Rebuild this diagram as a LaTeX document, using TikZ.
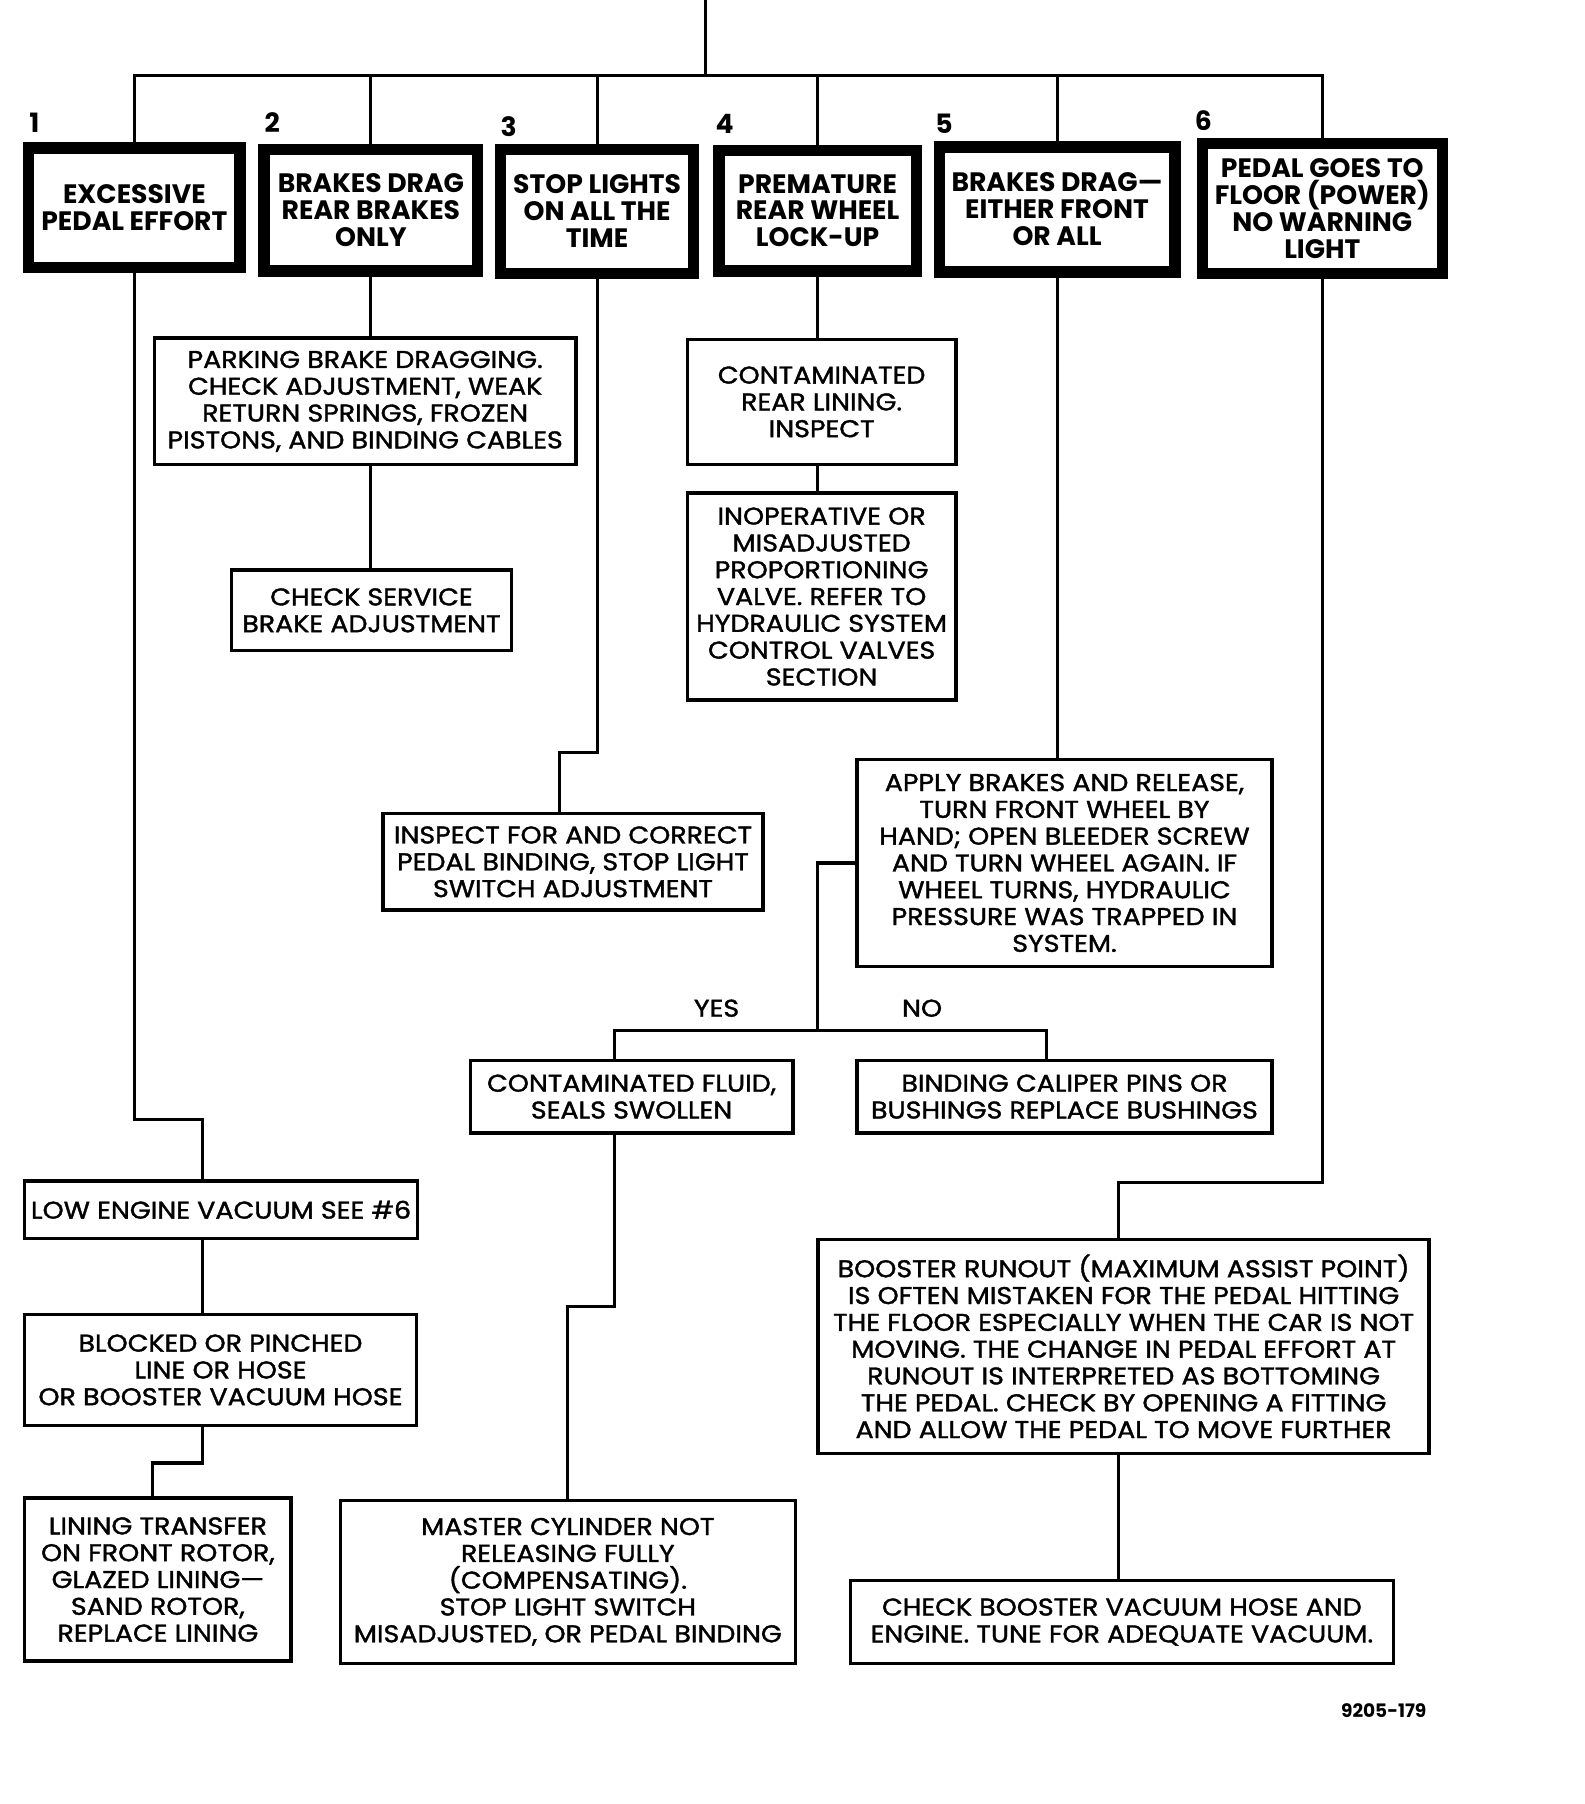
\documentclass[tikz,border=0pt]{standalone}
\usepackage{fontspec}
\setmainfont{Poppins}
\newfontfamily\bodyface{Poppins}[FakeStretch=1.11, FakeBold=1.5, Ligatures=TeX]
\newcommand{\headfont}{\fontsize{16.5}{16.7}\selectfont\bfseries}
\newcommand{\bodyfont}{\bodyface\fontsize{15}{16.6}\selectfont}
\tikzset{
  headbox/.style={draw, line width=7.1pt, inner sep=0pt, align=center, font=\headfont},
  textbox/.style={draw, line width=2.1pt, inner sep=0pt, align=center, font=\bodyfont},
  numlabel/.style={inner sep=0pt, font=\headfont},
  link/.style={line width=1.9pt},
}
\begin{document}
\begin{tikzpicture}[x=0.025cm, y=-0.025cm]
  \useasboundingbox (0,0) rectangle (1380,1571);

  % the six complaints
  \node [headbox, minimum width=4.6cm, minimum height=2.6cm] (hd1) at (117,181) {EXCESSIVE\\PEDAL EFFORT};
  \node [headbox, minimum width=4.65cm, minimum height=2.65cm] (hd2) at (323,183) {BRAKES DRAG\\REAR BRAKES\\ONLY};
  \node [headbox, minimum width=4.2cm, minimum height=2.7cm] (hd3) at (520,184) {STOP LIGHTS\\ON ALL THE\\TIME};
  \node [headbox, minimum width=4.3cm, minimum height=2.625cm] (hd4) at (712,183.5) {PREMATURE\\REAR WHEEL\\LOCK-UP};
  \node [headbox, minimum width=5.125cm, minimum height=2.725cm] (hd5) at (920.5,182.5) {BRAKES DRAG—\\EITHER FRONT\\OR ALL};
  \node [headbox, minimum width=5.225cm, minimum height=2.825cm] (hd6) at (1151.5,181.5) {PEDAL GOES TO\\FLOOR (POWER)\\NO WARNING\\LIGHT};

  \node [numlabel] (n1) at (30,107) {1};
  \node [numlabel] (n2) at (237,107) {2};
  \node [numlabel] (n3) at (443,110) {3};
  \node [numlabel] (n4) at (631,108) {4};
  \node [numlabel] (n5) at (822,108) {5};
  \node [numlabel] (n6) at (1048,105) {6};

  % causes and checks
  \node [textbox, minimum width=9.175cm, minimum height=2.75cm] (park) at (318,349.5) {PARKING BRAKE DRAGGING.\\CHECK ADJUSTMENT, WEAK\\RETURN SPRINGS, FROZEN\\PISTONS, AND BINDING CABLES};
  \node [textbox, minimum width=6.1cm, minimum height=1.75cm] (chk) at (323.5,531.5) {CHECK SERVICE\\BRAKE ADJUSTMENT};
  \node [textbox, minimum width=5.85cm, minimum height=2.725cm] (cont) at (715.5,350) {CONTAMINATED\\REAR LINING.\\INSPECT};
  \node [textbox, minimum width=5.85cm, minimum height=4.5cm] (inop) at (715.5,519.5) {INOPERATIVE OR\\MISADJUSTED\\PROPORTIONING\\VALVE. REFER TO\\HYDRAULIC SYSTEM\\CONTROL VALVES\\SECTION};
  \node [textbox, minimum width=8.275cm, minimum height=2.1cm] (insp) at (499,750.5) {INSPECT FOR AND CORRECT\\PEDAL BINDING, STOP LIGHT\\SWITCH ADJUSTMENT};
  \node [textbox, minimum width=9.025cm, minimum height=4.5cm] (apply) at (927,751.5) {APPLY BRAKES AND RELEASE,\\TURN FRONT WHEEL BY\\HAND; OPEN BLEEDER SCREW\\AND TURN WHEEL AGAIN. IF\\WHEEL TURNS, HYDRAULIC\\PRESSURE WAS TRAPPED IN\\SYSTEM.};
  \node [textbox, minimum width=7.025cm, minimum height=1.575cm] (fluid) at (550,955) {CONTAMINATED FLUID,\\SEALS SWOLLEN};
  \node [textbox, minimum width=9.025cm, minimum height=1.575cm] (bind) at (927,955) {BINDING CALIPER PINS OR\\BUSHINGS REPLACE BUSHINGS};
  \node [textbox, minimum width=8.55cm, minimum height=1.25cm] (low) at (192.5,1053.5) {LOW ENGINE VACUUM SEE \#6};
  \node [textbox, minimum width=8.525cm, minimum height=2.425cm] (blk) at (192,1193) {BLOCKED OR PINCHED\\LINE OR HOSE\\OR BOOSTER VACUUM HOSE};
  \node [textbox, minimum width=5.8cm, minimum height=3.55cm] (lin) at (137.5,1375.5) {LINING TRANSFER\\ON FRONT ROTOR,\\GLAZED LINING—\\SAND ROTOR,\\REPLACE LINING};
  \node [textbox, minimum width=9.9cm, minimum height=3.55cm] (mast) at (494.5,1377.5) {MASTER CYLINDER NOT\\RELEASING FULLY\\(COMPENSATING).\\STOP LIGHT SWITCH\\MISADJUSTED, OR PEDAL BINDING};
  \node [textbox, minimum width=13.3cm, minimum height=4.65cm] (boost) at (978.5,1172.5) {BOOSTER RUNOUT (MAXIMUM ASSIST POINT)\\IS OFTEN MISTAKEN FOR THE PEDAL HITTING\\THE FLOOR ESPECIALLY WHEN THE CAR IS NOT\\MOVING. THE CHANGE IN PEDAL EFFORT AT\\RUNOUT IS INTERPRETED AS BOTTOMING\\THE PEDAL. CHECK BY OPENING A FITTING\\AND ALLOW THE PEDAL TO MOVE FURTHER};
  \node [textbox, minimum width=11.825cm, minimum height=1.8cm] (chkb) at (977,1412.5) {CHECK BOOSTER VACUUM HOSE AND\\ENGINE. TUNE FOR ADEQUATE VACUUM.};

  \node [inner sep=0pt, font=\bodyfont] (yes) at (624,878) {YES};
  \node [inner sep=0pt, font=\bodyfont] (no) at (803,878) {NO};
  \node [inner sep=0pt, font=\fontsize{11.5}{13}\selectfont\bfseries] (fig) at (1205,1490) {9205-179};

  % bends
  \coordinate (top) at (614,0);
  \coordinate (bar) at (614,66);
  \coordinate (j1) at (176,975);
  \coordinate (j2) at (133,1274);
  \coordinate (j3) at (487,655);
  \coordinate (j4) at (494,1138);
  \coordinate (j5) at (974,1030);
  \coordinate (yn) at (712,897);
  \coordinate (ya) at (535,897);
  \coordinate (na) at (911,897);

  % tree on top
  \draw [link] (top) -- (bar);
  \draw [link] (hd1.north) |- (bar) -| (hd6.north);
  \draw [link] (hd2.north) -- (hd2.north |- bar);
  \draw [link] (hd3.north) -- (hd3.north |- bar);
  \draw [link] (hd4.north) -- (hd4.north |- bar);
  \draw [link] (hd5.north) -- (hd5.north |- bar);

  % 1
  \draw [link] (hd1.south) |- (j1) -- (j1 |- low.north);
  \draw [link] (j1 |- low.south) -- (j1 |- blk.north);
  \draw [link] (j1 |- blk.south) |- (j2) -- (j2 |- lin.north);
  % 2
  \draw [link] (hd2.south) -- (hd2.south |- park.north);
  \draw [link] (hd2.south |- park.south) -- (hd2.south |- chk.north);
  % 3
  \draw [link] (hd3.south) |- (j3) -- (j3 |- insp.north);
  % 4
  \draw [link] (hd4.south) -- (hd4.south |- cont.north);
  \draw [link] (hd4.south |- cont.south) -- (hd4.south |- inop.north);
  % 5
  \draw [link] (hd5.south) -- (hd5.south |- apply.north);
  \draw [link] (apply.west) -| (yn);
  \draw [link] (ya |- fluid.north) -- (ya) -- (na) -- (na |- bind.north);
  \draw [link] (ya |- fluid.south) |- (j4) -- (j4 |- mast.north);
  % 6
  \draw [link] (hd6.south) |- (j5) -- (j5 |- boost.north);
  \draw [link] (j5 |- boost.south) -- (j5 |- chkb.north);
\end{tikzpicture}
\end{document}
